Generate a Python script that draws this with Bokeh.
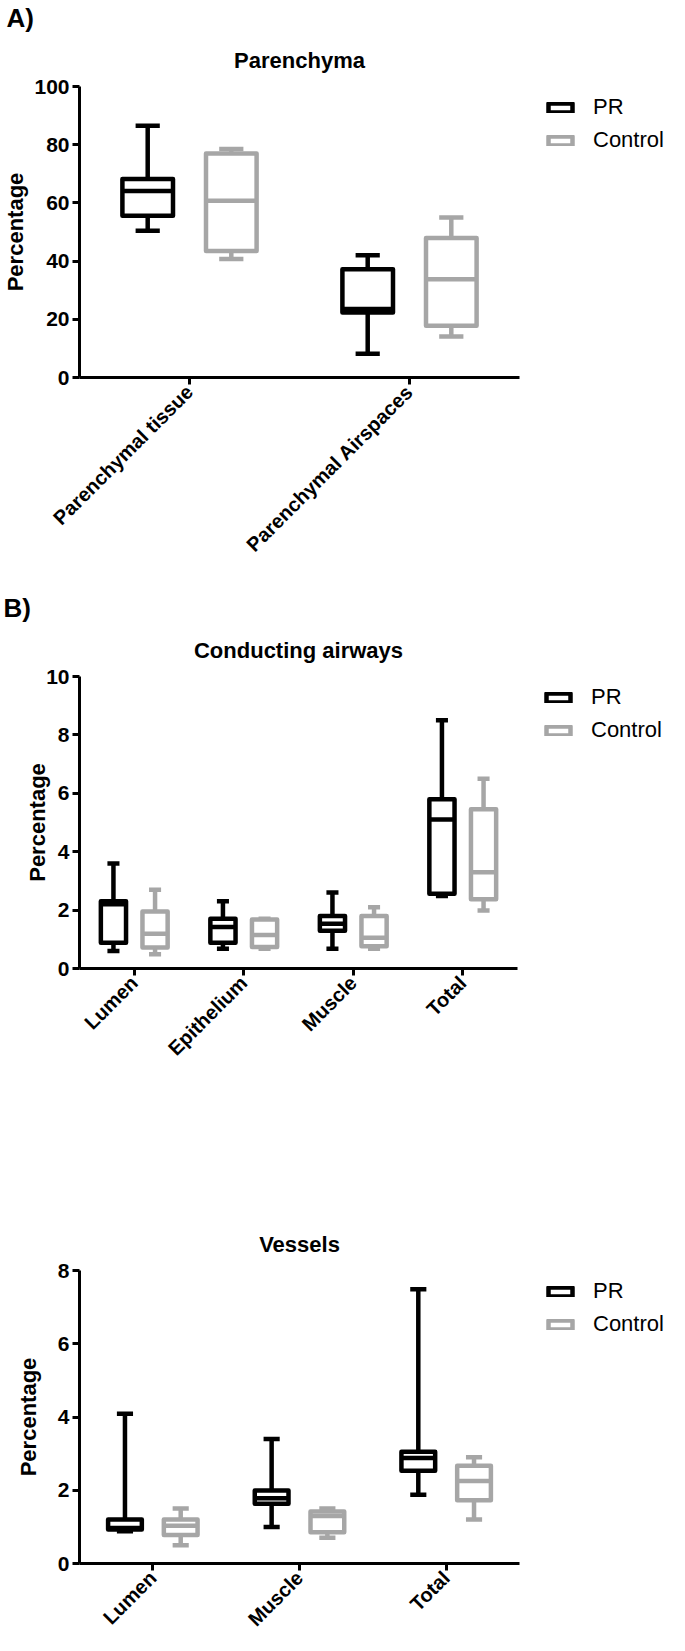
import math
from bokeh.plotting import figure
from bokeh.models import (ColumnDataSource, FactorRange, Range1d, FixedTicker,
                          Legend, LegendItem, Title)
from bokeh.transform import dodge
from bokeh.layouts import column
from bokeh.embed import file_html
from bokeh.resources import INLINE

# ---------------- data ----------------
# Panel A: Parenchyma
a_cats = ["Parenchymal tissue", "Parenchymal Airspaces"]
a_pr_min = [50.4, 8.2]
a_pr_q1 = [55.6, 22.3]
a_pr_med = [64.1, 23.5]
a_pr_q3 = [68.2, 37.2]
a_pr_max = [86.5, 42.0]
a_ct_min = [40.7, 14.1]
a_ct_q1 = [43.5, 17.8]
a_ct_med = [60.7, 33.8]
a_ct_q3 = [77.0, 47.9]
a_ct_max = [78.5, 55.0]
a_yticks = [0, 20, 40, 60, 80, 100]

# Panel B: Conducting airways
b_cats = ["Lumen", "Epithelium", "Muscle", "Total"]
b_pr_min = [0.6, 0.68, 0.68, 2.48]
b_pr_q1 = [0.88, 0.88, 1.29, 2.56]
b_pr_med = [2.2, 1.42, 1.53, 5.1]
b_pr_q3 = [2.3, 1.7, 1.8, 5.8]
b_pr_max = [3.6, 2.3, 2.6, 8.5]
b_ct_min = [0.49, 0.68, 0.68, 1.99]
b_ct_q1 = [0.72, 0.74, 0.76, 2.37]
b_ct_med = [1.19, 1.15, 1.05, 3.3]
b_ct_q3 = [1.95, 1.68, 1.8, 5.45]
b_ct_max = [2.7, 1.7, 2.1, 6.5]
b_yticks = [0, 2, 4, 6, 8, 10]

# Panel C: Vessels
c_cats = ["Lumen", "Muscle", "Total"]
c_pr_min = [0.88, 1.0, 1.88]
c_pr_q1 = [0.93, 1.63, 2.53]
c_pr_med = [0.97, 1.78, 2.88]
c_pr_q3 = [1.2, 1.99, 3.05]
c_pr_max = [4.09, 3.4, 7.49]
c_ct_min = [0.5, 0.7, 1.2]
c_ct_q1 = [0.78, 0.85, 1.73]
c_ct_med = [1.03, 1.3, 2.25]
c_ct_q3 = [1.2, 1.42, 2.67]
c_ct_max = [1.5, 1.5, 2.9]
c_yticks = [0, 2, 4, 6, 8]

series_names = ["PR", "Control"]

# ---------------- style ----------------
BLACK = "#000000"
GRAY = "#a6a6a6"
LW = 4.5
BOXW = 0.23
CAPW = 0.11
OFF = 0.19
FONT = "Liberation Sans"
FIG_W = 669


def draw_group(p, cats, lo, q1, med, q3, hi, off, color):
    src = ColumnDataSource(dict(cat=cats, lo=lo, q1=q1, med=med, q3=q3, hi=hi))
    xr = p.x_range
    kw = dict(line_color=color, line_width=LW, source=src)
    p.segment(x0=dodge("cat", off, range=xr), y0="q3",
              x1=dodge("cat", off, range=xr), y1="hi", **kw)
    p.segment(x0=dodge("cat", off, range=xr), y0="lo",
              x1=dodge("cat", off, range=xr), y1="q1", **kw)
    p.segment(x0=dodge("cat", off - CAPW / 2, range=xr), y0="hi",
              x1=dodge("cat", off + CAPW / 2, range=xr), y1="hi", **kw)
    p.segment(x0=dodge("cat", off - CAPW / 2, range=xr), y0="lo",
              x1=dodge("cat", off + CAPW / 2, range=xr), y1="lo", **kw)
    r = p.vbar(x=dodge("cat", off, range=xr), width=BOXW, top="q3", bottom="q1",
               fill_color="white", line_join="round", **kw)
    p.segment(x0=dodge("cat", off - BOXW / 2, range=xr), y0="med",
              x1=dodge("cat", off + BOXW / 2, range=xr), y1="med", **kw)
    return r


def make_panel(cats, pr, ct, ymax, yticks, title, letter, frame_left, frame_w,
               frame_h, top, bottom, ylab_standoff):
    p = figure(x_range=FactorRange(factors=cats), y_range=Range1d(0, ymax),
               frame_width=frame_w, frame_height=frame_h,
               min_border_left=frame_left, min_border_right=FIG_W - frame_left - frame_w,
               min_border_top=top, min_border_bottom=bottom,
               output_backend="svg", toolbar_location=None, tools="")
    p.title.visible = False
    p.xgrid.visible = False
    p.ygrid.visible = False
    p.outline_line_color = None
    p.background_fill_color = "white"
    p.border_fill_color = "white"

    for ax in (p.xaxis[0], p.yaxis[0]):
        ax.axis_line_width = 3
        ax.axis_line_color = BLACK
        ax.major_tick_line_width = 3
        ax.major_tick_line_color = BLACK
        ax.major_tick_out = 7
        ax.major_tick_in = 0
        ax.minor_tick_line_color = None
        ax.major_label_text_font = FONT
        ax.major_label_text_font_style = "bold"
        ax.major_label_text_color = BLACK

    p.yaxis.ticker = FixedTicker(ticks=yticks)
    p.yaxis.major_label_text_font_size = "21px"
    p.yaxis.major_label_standoff = 3
    p.yaxis.axis_label = "Percentage"
    p.yaxis.axis_label_text_font = FONT
    p.yaxis.axis_label_text_font_style = "bold"
    p.yaxis.axis_label_text_font_size = "22px"
    p.yaxis.axis_label_text_color = BLACK
    p.yaxis.axis_label_standoff = ylab_standoff

    p.xaxis.major_label_text_font_size = "20px"
    p.xaxis.major_label_orientation = math.pi / 4
    p.xaxis.major_label_standoff = 4

    r_pr = draw_group(p, cats, *pr, -OFF, BLACK)
    r_ct = draw_group(p, cats, *ct, OFF, GRAY)

    item_h = 25
    spacing = 7
    leg_h = 2 * item_h + spacing
    legend = Legend(items=[LegendItem(label=series_names[0], renderers=[r_pr]),
                           LegendItem(label=series_names[1], renderers=[r_ct])],
                    location=(26, frame_h - 10 - leg_h),
                    orientation="vertical", margin=0, padding=0, spacing=spacing,
                    glyph_width=30, glyph_height=11, label_standoff=18,
                    label_height=20, label_text_font=FONT,
                    label_text_font_size="22px", label_text_color=BLACK,
                    border_line_color=None, background_fill_alpha=0)
    p.add_layout(legend, "right")

    p.add_layout(Title(text=title, align="center", text_font=FONT,
                       text_font_style="bold", text_font_size="22px",
                       text_color=BLACK, standoff=27), "above")
    if letter:
        p.add_layout(Title(text=letter, align="left", offset=-(frame_left - 2),
                           text_font=FONT, text_font_style="bold",
                           text_font_size="26px", text_color=BLACK,
                           standoff=0), "above")
    return p


pA = make_panel(a_cats,
                (a_pr_min, a_pr_q1, a_pr_med, a_pr_q3, a_pr_max),
                (a_ct_min, a_ct_q1, a_ct_med, a_ct_q3, a_ct_max),
                100, a_yticks, "Parenchyma", "A)",
                75, 440, 291, 83, 193, 3)
pB = make_panel(b_cats,
                (b_pr_min, b_pr_q1, b_pr_med, b_pr_q3, b_pr_max),
                (b_ct_min, b_ct_q1, b_ct_med, b_ct_q3, b_ct_max),
                10, b_yticks, "Conducting airways", "B)",
                78, 438, 292, 106, 217, -7)
pC = make_panel(c_cats,
                (c_pr_min, c_pr_q1, c_pr_med, c_pr_q3, c_pr_max),
                (c_ct_min, c_ct_q1, c_ct_med, c_ct_q3, c_ct_max),
                8, c_yticks, "Vessels", None,
                75, 440, 293, 85, 74, 14)

layout = column(pA, pB, pC, spacing=0)
open("out.html", "w").write(file_html(layout, INLINE))
